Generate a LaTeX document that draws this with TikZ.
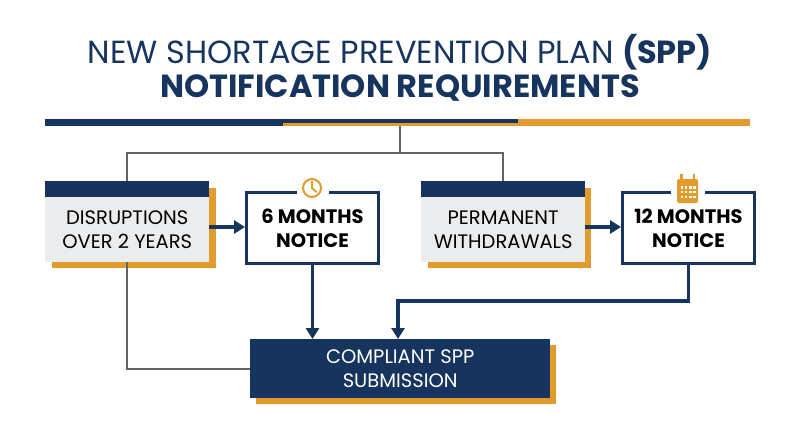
\documentclass[tikz,border=0pt]{standalone}
\usepackage{fontspec}
\setmainfont{Poppins}
\usetikzlibrary{positioning,arrows.meta}
\definecolor{navy}{RGB}{22, 52, 94}
\definecolor{amber}{RGB}{226, 155, 47}
\definecolor{paper}{RGB}{235, 236, 238}
\definecolor{wire}{RGB}{100, 100, 100}
\tikzset{
  srcbox/.style={fill=paper, minimum width=164pt, minimum height=65pt, inner sep=0pt,
    align=center, font=\fontsize{19.5}{24}\selectfont},
  notebox/.style={draw=navy, line width=3pt, fill=white, minimum width=132pt, minimum height=71pt,
    inner sep=0pt, align=center, font=\bfseries\fontsize{19.5}{24}\selectfont},
  navyarrow/.style={draw=navy, line width=3.3pt, -{Triangle[length=11pt,width=13pt]}},
  grayline/.style={draw=wire, line width=1.6pt},
}
\begin{document}
\begin{tikzpicture}[x=1pt,y=-1pt]
  \useasboundingbox (0,0) rectangle (800,447);
  % title
  \node[text=navy, font=\fontsize{32}{36}\selectfont] (title1) at (400,52)
    {NEW SHORTAGE PREVENTION PLAN \textbf{(SPP)}};
  \node[text=navy, font=\bfseries\fontsize{32}{36}\selectfont] (title2) at (400,88)
    {NOTIFICATION REQUIREMENTS};
  % rule
  \fill[navy] (45,119) rectangle (283,126);
  \fill[navy] (283,119) rectangle (518,122.5);
  \fill[amber] (283,122.5) rectangle (518,126);
  \fill[amber] (518,119) rectangle (750,126);
  % source boxes with shadow and top bar
  \fill[amber] (52,188) rectangle (216,268);
  \node[srcbox, anchor=north west] (disrupt) at (45,197) {DISRUPTIONS\\OVER 2 YEARS};
  \fill[navy] (45,181) rectangle (209,197);
  \fill[amber] (428,188) rectangle (591,268);
  \node[srcbox, anchor=north west] (withdraw) at (421,197) {PERMANENT\\WITHDRAWALS};
  \fill[navy] (421,181) rectangle (585,197);
  \coordinate (dtop) at (127,181);
  \coordinate (wtop) at (503,181);
  % notice boxes
  \node[notebox, anchor=north west] (six) at (245,191) {6 MONTHS\\NOTICE};
  \node[notebox, anchor=north west] (twelve) at (621,191) {12 MONTHS\\NOTICE};
  % icon gaps and icons
  \fill[white] (297,186) rectangle (329,195);
  \draw[amber, line width=2pt] (312,188) circle (9);
  \draw[amber, line width=1.8pt, line cap=round] (312,181.5) -- (312,188) -- (316.5,192);
  \fill[white] (671,186) rectangle (705,195);
  \fill[amber, rounded corners=2pt] (677,179) rectangle (698,203);
  \fill[amber] (680,174) rectangle (682.5,181);
  \fill[amber] (692.5,174) rectangle (695,181);
  \foreach \i in {0,1,2,3} \foreach \j in {0,1,2}
    \fill[white] (680.5+\i*4.2,186+\j*4.8) rectangle ++(2.6,2.6);
  % result box
  \fill[amber] (256,345) rectangle (556,404);
  \node[fill=navy, text=white, minimum width=300pt, minimum height=59pt, inner sep=0pt,
    align=center, font=\fontsize{19.5}{24}\selectfont, anchor=north west] (submit) at (250,339)
    {COMPLIANT SPP\\SUBMISSION};
  % gray tree
  \coordinate (hub) at (400,126);
  \draw[grayline] (hub) -- (400,153) -| (dtop);
  \draw[grayline] (400,153) -| (wtop);
  \draw[grayline] (disrupt.south) |- (submit.west);
  % arrows
  \draw[navyarrow] (disrupt.east |- 0,227) -- (six.west |- 0,227);
  \draw[navyarrow] (withdraw.east |- 0,227) -- (twelve.west |- 0,227);
  \draw[navyarrow] (six.south) -- (six.south |- submit.north);
  \draw[navyarrow] (twelve.south) -- (twelve.south |- 0,301) -| (398,339);
\end{tikzpicture}
\end{document}
